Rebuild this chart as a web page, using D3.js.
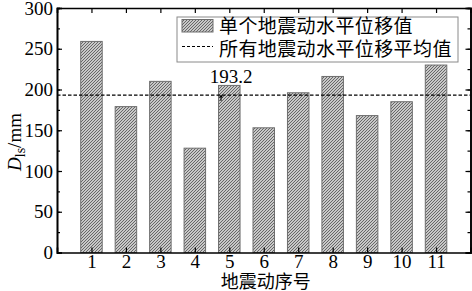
<!DOCTYPE html>
<html>
<head>
<meta charset="utf-8">
<script src="https://cdn.jsdelivr.net/npm/d3@7"></script>
<style>
  body { margin: 0; background: #fff; }
  svg { display: block; }
  text { fill: #000; }
</style>
</head>
<body>
<svg id="chart"></svg>
<script>
const categories = ["1", "2", "3", "4", "5", "6", "7", "8", "9", "10", "11"];
const dispValues = [259, 179, 210, 128, 205, 153, 196, 216, 168, 185, 230]; // mm
const meanValue = 193.2;
const yTicks = [0, 50, 100, 150, 200, 250, 300];
const legendLabels = ["单个地震动水平位移值", "所有地震动水平位移平均值"];

const width = 472, height = 291;
const margin = { top: 8, right: 1.5, bottom: 38.5, left: 57 };
const plotW = width - margin.left - margin.right;
const plotH = height - margin.top - margin.bottom;

const serif = "'Liberation Serif', 'Times New Roman', serif";
const cjk = "'Noto Sans CJK SC', sans-serif";

const svg = d3.select("#chart").attr("width", width).attr("height", height);

// hatch fill for the bars
const defs = svg.append("defs");
const pat = defs.append("pattern")
    .attr("id", "hatch")
    .attr("patternUnits", "userSpaceOnUse")
    .attr("width", 3).attr("height", 3);
pat.append("rect").attr("width", 3).attr("height", 3).attr("fill", "#c8c8c8");
pat.append("path")
    .attr("d", "M-1,1 l2,-2 M0,3 l3,-3 M2,4 l2,-2")
    .attr("stroke", "#555").attr("stroke-width", 0.85);

const g = svg.append("g").attr("transform", `translate(${margin.left},${margin.top})`);

const x = d3.scaleLinear().domain([0, categories.length + 1]).range([0, plotW]);
const y = d3.scaleLinear().domain([0, 300]).range([plotH, 0]);
const barW = 21.5;

// bars
g.selectAll(".bar")
    .data(dispValues)
    .enter().append("rect")
    .attr("class", "bar")
    .attr("x", (d, i) => x(i + 1) - barW / 2)
    .attr("y", d => y(d))
    .attr("width", barW)
    .attr("height", d => plotH - y(d))
    .attr("fill", "url(#hatch)")
    .attr("stroke", "#6e6e6e")
    .attr("stroke-width", 1);

// mean line
g.append("line")
    .attr("x1", 0).attr("x2", plotW)
    .attr("y1", y(meanValue)).attr("y2", y(meanValue))
    .attr("stroke", "#000").attr("stroke-width", 1.3)
    .attr("stroke-dasharray", "3.5,2");

// axes
const catTicks = categories.map((c, i) => i + 1);
const minorY = d3.range(0, 301, 25);

const xBottom = d3.axisBottom(x).tickValues(catTicks).tickSize(-5).tickPadding(1.5)
    .tickFormat((d) => categories[d - 1]);
const xTop = d3.axisTop(x).tickValues(catTicks).tickSize(-5).tickFormat("");
const yLeft = d3.axisLeft(y).tickValues(yTicks).tickSize(-5).tickPadding(4);
const yLeftMinor = d3.axisLeft(y).tickValues(minorY).tickSize(-3).tickFormat("");
const yRight = d3.axisRight(y).tickValues(yTicks).tickSize(-5).tickFormat("");
const yRightMinor = d3.axisRight(y).tickValues(minorY).tickSize(-3).tickFormat("");

function styleAxis(sel) {
    sel.select(".domain").attr("stroke", "#000").attr("stroke-width", 1.6);
    sel.selectAll(".tick line").attr("stroke", "#000").attr("stroke-width", 1.2);
    sel.selectAll("text").attr("font-family", serif).attr("font-size", 19).attr("fill", "#000");
}

g.append("g").attr("transform", `translate(0,${plotH})`).call(xBottom).call(styleAxis);
g.append("g").call(xTop).call(styleAxis);
g.append("g").call(yLeftMinor).call(styleAxis);
g.append("g").call(yLeft).call(styleAxis);
g.append("g").attr("transform", `translate(${plotW},0)`).call(yRightMinor).call(styleAxis);
g.append("g").attr("transform", `translate(${plotW},0)`).call(yRight).call(styleAxis);

// mean annotation
svg.append("text")
    .attr("x", 231).attr("y", 83)
    .attr("text-anchor", "middle")
    .attr("font-family", serif).attr("font-size", 19)
    .text(meanValue.toFixed(1));
svg.append("line")
    .attr("x1", 221).attr("x2", 221)
    .attr("y1", 101).attr("y2", 96.5)
    .attr("stroke", "#000").attr("stroke-width", 1);
svg.append("path")
    .attr("d", "M219,97.5 L221,94.5 L223,97.5 Z")
    .attr("fill", "#000");

// legend
const leg = svg.append("g");
leg.append("rect")
    .attr("x", 177).attr("y", 17)
    .attr("width", 281).attr("height", 45)
    .attr("fill", "#fff").attr("stroke", "#8a8a8a").attr("stroke-width", 1);
leg.append("rect")
    .attr("x", 182).attr("y", 19.5)
    .attr("width", 31).attr("height", 12.5)
    .attr("fill", "url(#hatch)").attr("stroke", "#6e6e6e");
leg.append("line")
    .attr("x1", 182).attr("x2", 213)
    .attr("y1", 46.5).attr("y2", 46.5)
    .attr("stroke", "#000").attr("stroke-width", 1.2)
    .attr("stroke-dasharray", "3,2");
leg.selectAll(".legtext")
    .data(legendLabels)
    .enter().append("text")
    .attr("class", "legtext")
    .attr("x", 219)
    .attr("y", (d, i) => 33 + i * 23)
    .attr("font-family", cjk).attr("font-size", 19)
    .attr("letter-spacing", 0.4)
    .text(d => d);

// axis titles
svg.append("text")
    .attr("x", margin.left + plotW / 2 + 2).attr("y", 287.5)
    .attr("text-anchor", "middle")
    .attr("font-family", cjk).attr("font-size", 18)
    .text("地震动序号");

const yTitle = svg.append("text")
    .attr("transform", "translate(21,142) rotate(-90)")
    .attr("text-anchor", "middle")
    .attr("font-family", serif).attr("font-size", 19);
yTitle.append("tspan").attr("font-style", "italic").text("D");
yTitle.append("tspan").attr("font-size", 14).attr("dy", 4).text("ls");
yTitle.append("tspan").attr("dy", -4).text("/mm");
</script>
</body>
</html>
